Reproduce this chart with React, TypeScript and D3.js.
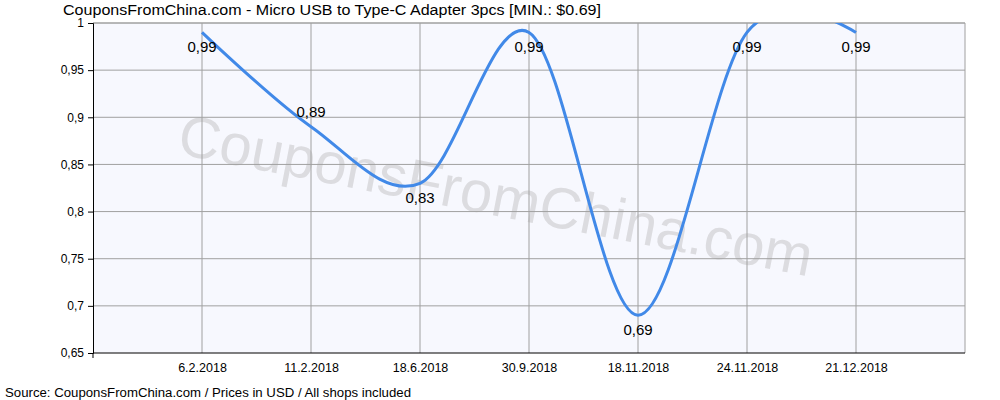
import React, { useRef, useEffect } from "react";
import * as d3 from "d3";

const dates = ["6.2.2018", "11.2.2018", "18.6.2018", "30.9.2018", "18.11.2018", "24.11.2018", "21.12.2018"];
const prices = [0.99, 0.89, 0.83, 0.99, 0.69, 0.99, 0.99];
const yTicks = [0.65, 0.7, 0.75, 0.8, 0.85, 0.9, 0.95, 1];

const title = "CouponsFromChina.com - Micro USB to Type-C Adapter 3pcs [MIN.: $0.69]";
const source = "Source: CouponsFromChina.com / Prices in USD / All shops included";

const PriceChart = () => {
  const ref = useRef<SVGSVGElement | null>(null);

  useEffect(() => {
    if (!ref.current) return;
    const svg = d3.select(ref.current);
    svg.selectAll("*").remove();

    const margin = { top: 23, right: 35, bottom: 47, left: 93 };
    const width = 1000 - margin.left - margin.right;
    const height = 400 - margin.top - margin.bottom;
    const font = "'Liberation Sans', Arial, sans-serif";

    svg.append("rect").attr("width", 1000).attr("height", 400).attr("fill", "#ffffff");

    const chart = svg.append("g").attr("transform", `translate(${margin.left},${margin.top})`);

    // x positions: one empty slot either side
    const x = d3.scaleLinear().domain([-1, dates.length]).range([0, width]);
    const y = d3.scaleLinear().domain([0.65, 1]).range([height, 0]);

    chart.append("rect").attr("width", width).attr("height", height).attr("fill", "#F7F8FE");

    // watermark
    chart
      .append("text")
      .attr("transform", `translate(${width / 2 - 34},${height / 2 + 12}) rotate(11)`)
      .attr("text-anchor", "middle")
      .attr("dominant-baseline", "middle")
      .style("font-family", font)
      .style("font-size", "58px")
      .style("fill", "#DCDCE0")
      .text("CouponsFromChina.com");

    // grid
    chart
      .append("g")
      .selectAll("line")
      .data(yTicks.slice(1))
      .enter()
      .append("line")
      .attr("x1", 0)
      .attr("x2", width)
      .attr("y1", (d) => y(d))
      .attr("y2", (d) => y(d))
      .attr("stroke", "#A0A0A0");

    chart
      .append("g")
      .selectAll("line")
      .data(d3.range(dates.length + 1))
      .enter()
      .append("line")
      .attr("x1", (d) => x(d))
      .attr("x2", (d) => x(d))
      .attr("y1", 0)
      .attr("y2", height)
      .attr("stroke", "#A0A0A0");

    chart
      .append("line")
      .attr("x1", 0)
      .attr("x2", width)
      .attr("y1", 0)
      .attr("y2", 0)
      .attr("stroke", "#A0A0A0");

    // axes
    const yAxis = chart
      .append("g")
      .call(d3.axisLeft(y).tickValues(yTicks).tickSize(5).tickPadding(4).tickFormat((d) => String(d).replace(".", ",")));
    yAxis.select(".domain").attr("stroke", "#000");
    yAxis.selectAll("text").style("font-family", font).style("font-size", "12px").style("fill", "#000");

    const xAxis = chart
      .append("g")
      .attr("transform", `translate(0,${height})`)
      .call(
        d3
          .axisBottom(x)
          .tickValues(d3.range(dates.length))
          .tickSize(0)
          .tickPadding(10)
          .tickFormat((d) => dates[d as number])
      );
    xAxis.select(".domain").attr("d", `M0,0H${width}`).attr("stroke", "#000");
    xAxis.selectAll("text").style("font-family", font).style("font-size", "12.5px").style("fill", "#000");
    chart
      .append("line")
      .attr("x1", 0)
      .attr("x2", 0)
      .attr("y1", height)
      .attr("y2", height + 5)
      .attr("stroke", "#000");

    // line
    chart
      .append("clipPath")
      .attr("id", "plot-clip")
      .append("rect")
      .attr("width", width)
      .attr("height", height);

    const line = d3
      .line<number>()
      .x((_, i) => x(i))
      .y((d) => y(d))
      .curve(d3.curveCardinal.tension(0));

    chart
      .append("path")
      .datum(prices)
      .attr("clip-path", "url(#plot-clip)")
      .attr("d", line)
      .attr("fill", "none")
      .attr("stroke", "#4189E8")
      .attr("stroke-width", 3);

    // value labels
    chart
      .append("g")
      .selectAll("text")
      .data(prices)
      .enter()
      .append("text")
      .attr("x", (_, i) => x(i))
      .attr("y", (d, i) => {
        const prev = prices[i - 1];
        const next = prices[i + 1];
        const between = prev !== undefined && next !== undefined && (prev - d) * (d - next) > 0;
        return between ? y(d) - 10 : y(d) + 20;
      })
      .attr("text-anchor", "middle")
      .style("font-family", font)
      .style("font-size", "15px")
      .style("fill", "#000")
      .text((d) => d.toFixed(2).replace(".", ","));

    svg
      .append("text")
      .attr("x", 63)
      .attr("y", 15)
      .attr("textLength", 538)
      .attr("lengthAdjust", "spacingAndGlyphs")
      .style("font-family", font)
      .style("font-size", "15.5px")
      .style("fill", "#000")
      .text(title);

    svg
      .append("text")
      .attr("x", 5)
      .attr("y", 397)
      .attr("textLength", 406)
      .attr("lengthAdjust", "spacingAndGlyphs")
      .style("font-family", font)
      .style("font-size", "12.5px")
      .style("fill", "#000")
      .text(source);
  }, []);

  return <svg ref={ref} width={1000} height={400} style={{ display: "block" }} />;
};

export default function App() {
  return (
    <div style={{ position: "absolute", left: 0, top: 0 }}>
      <PriceChart />
    </div>
  );
}
